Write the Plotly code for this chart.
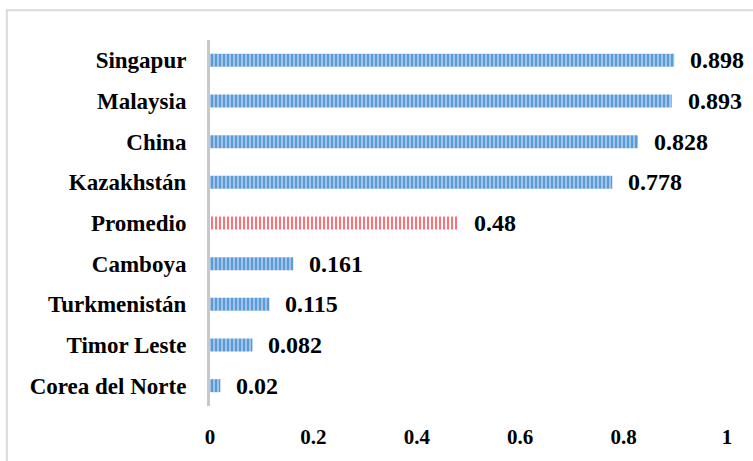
import plotly.graph_objects as go

countries = ["Corea del Norte", "Timor Leste", "Turkmenistán", "Camboya", "Promedio",
             "Kazakhstán", "China", "Malaysia", "Singapur"]
values = [0.02, 0.082, 0.115, 0.161, 0.48, 0.778, 0.828, 0.893, 0.898]
labels = ["0.02", "0.082", "0.115", "0.161", "0.48", "0.778", "0.828", "0.893", "0.898"]
x_ticks = [0, 0.2, 0.4, 0.6, 0.8, 1]
x_ticktext = ["0", "0.2", "0.4", "0.6", "0.8", "1"]
highlight = "Promedio"

FONT = "Liberation Serif"

blue_y = [c for c in countries if c != highlight]
blue_x = [v for c, v in zip(countries, values) if c != highlight]
red_y = [c for c in countries if c == highlight]
red_x = [v for c, v in zip(countries, values) if c == highlight]

fig = go.Figure()
fig.add_trace(go.Bar(
    y=blue_y, x=blue_x, orientation="h", width=0.32,
    marker=dict(color="#a7c8ec", line=dict(width=0),
                pattern=dict(shape="|", fgcolor="#5b9bd5", bgcolor="#a7c8ec",
                             size=4, solidity=0.55, fillmode="replace")),
    hoverinfo="skip",
))
fig.add_trace(go.Bar(
    y=red_y, x=red_x, orientation="h", width=0.32,
    marker=dict(color="#ffffff", line=dict(width=0),
                pattern=dict(shape="|", fgcolor="#ff7078", bgcolor="#ffffff",
                             size=4, solidity=0.5, fillmode="replace")),
    hoverinfo="skip",
))

for c, v, t in zip(countries, values, labels):
    fig.add_annotation(x=v, y=c, text="<b>%s</b>" % t, showarrow=False,
                       xanchor="left", yanchor="middle", xshift=14,
                       font=dict(family=FONT, size=24, color="#000000"))

fig.add_shape(type="rect", xref="paper", yref="paper",
              x0=-0.393, x1=1.2, y0=-0.5, y1=1.081,
              line=dict(color="#d9d9d9", width=2), fillcolor="rgba(0,0,0,0)", layer="below")

fig.update_layout(
    width=753, height=461,
    margin=dict(l=210, r=26, t=40, b=51),
    paper_bgcolor="#ffffff", plot_bgcolor="#ffffff",
    showlegend=False, barmode="overlay",
    font=dict(family=FONT, size=21, color="#000000"),
    xaxis=dict(range=[0, 1], tickvals=x_ticks,
               ticktext=["<b>%s</b>" % s for s in x_ticktext],
               showgrid=False, zeroline=False, showline=False,
               ticks="outside", ticklen=12, tickcolor="rgba(0,0,0,0)",
               tickfont=dict(family=FONT, size=21, color="#000000")),
    yaxis=dict(range=[-0.5, 8.5], categoryorder="array", categoryarray=countries,
               tickvals=countries,
               ticktext=["<b>%s</b>" % c for c in countries],
               showgrid=False, zeroline=False, showline=True,
               linecolor="#c8c8c8", linewidth=3,
               ticks="outside", ticklen=16, tickcolor="rgba(0,0,0,0)",
               tickfont=dict(family=FONT, size=23, color="#000000")),
)

fig.write_html("out.html")
